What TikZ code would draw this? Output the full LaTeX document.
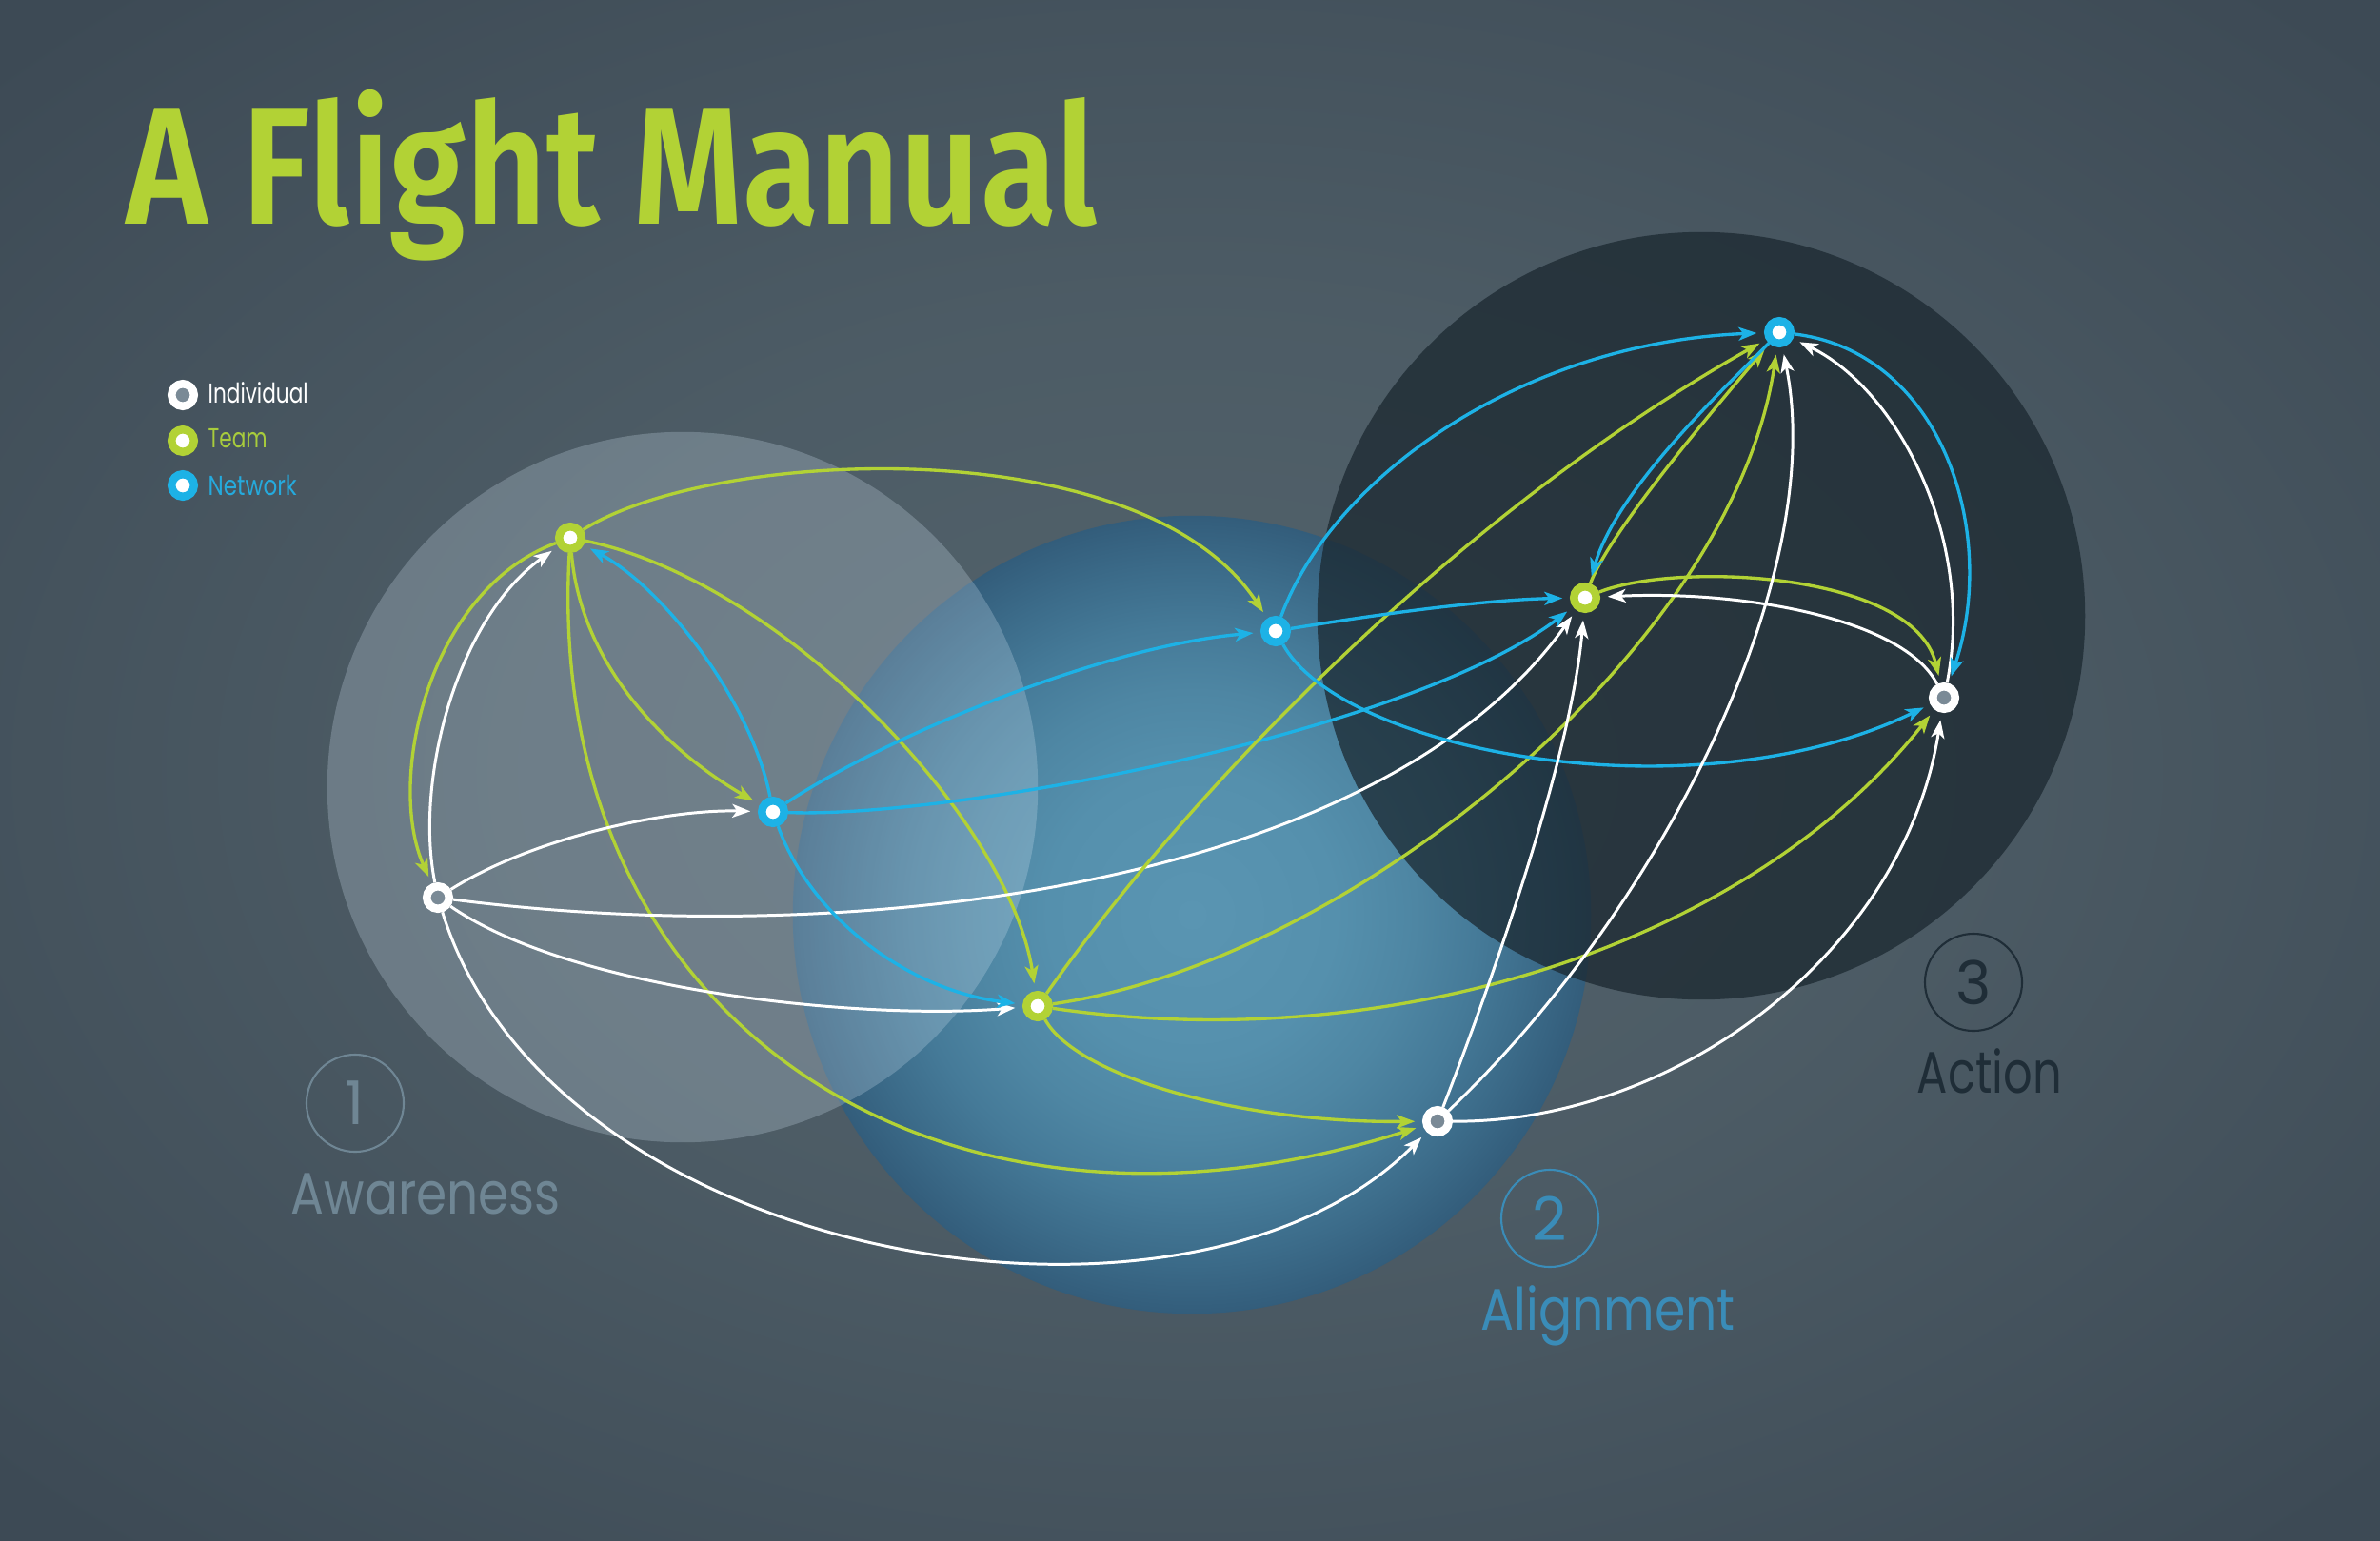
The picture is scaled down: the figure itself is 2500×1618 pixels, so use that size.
\documentclass[tikz,border=0pt]{standalone}
\usepackage{fontspec}
\setmainfont{Poppins}
\newfontfamily\titlefont{Fira Sans SemiBold}
\usetikzlibrary{arrows.meta}
\definecolor{tgreen}{HTML}{B2D235}
\definecolor{nblue}{HTML}{1DB2E6}
\definecolor{indgray}{HTML}{7A8A96}
\definecolor{bgin}{HTML}{53636C}
\definecolor{bgout}{HTML}{3D4A55}
\definecolor{c1fill}{HTML}{D2E4F2}
\definecolor{c2a}{HTML}{5A95B2}
\definecolor{c2b}{HTML}{5590AD}
\definecolor{c2c}{HTML}{4E86A3}
\definecolor{c2e}{HTML}{457A98}
\definecolor{c2f}{HTML}{3C6C8A}
\definecolor{c2d}{HTML}{335D7B}
\definecolor{c3fill}{HTML}{1B2830}
\definecolor{lab1col}{HTML}{6F8694}
\definecolor{lab2col}{HTML}{3A8CB8}
\definecolor{lab3col}{HTML}{1F2D37}
\definecolor{legT}{HTML}{A8CC3C}
\definecolor{legN}{HTML}{25AADD}
% the path bounding box maps to the central 50bp square of a shading
\pgfdeclareradialshading{bgshade}{\pgfpoint{0bp}{0bp}}{color(0bp)=(bgin); color(15bp)=(bgin!70!bgout); color(34bp)=(bgout); color(50bp)=(bgout)}
\pgfdeclareradialshading{spheretwo}{\pgfpoint{0bp}{0bp}}{color(0bp)=(c2a); color(9bp)=(c2b); color(14bp)=(c2c); color(18bp)=(c2e); color(21.5bp)=(c2f); color(25bp)=(c2d); color(50bp)=(c2d)}
\pgfdeclarelayer{back}
\pgfdeclarelayer{edges}
\pgfsetlayers{back,edges,main}
\tikzset{
  nodebase/.style={circle, minimum size=0.235cm, inner sep=0pt, line width=0.085cm},
  team/.style={nodebase, draw=tgreen, fill=white},
  netw/.style={nodebase, draw=nblue, fill=white},
  indiv/.style={nodebase, draw=white, fill=indgray},
  conn/.style={line width=0.95pt, -{Stealth[length=5.4pt,width=4pt,inset=1.4pt]}, shorten >=2.2pt},
  ge/.style={conn, draw=tgreen},
  be/.style={conn, draw=nblue},
  we/.style={conn, draw=white, line width=0.85pt},
  txt/.style={anchor=base west, inner sep=0pt},
  stagering/.style={circle, minimum size=1.02cm, inner sep=0pt, line width=0.6pt}
}
\begin{document}
\begin{tikzpicture}[x=0.01cm, y=-0.01cm]
\useasboundingbox (0,0) rectangle (2500,1618);
\begin{pgfonlayer}{back}
\shade[shading=bgshade] (0,0) rectangle (2500,1618);
\shade[shading=spheretwo] (1252,961) circle[radius=4.19cm];
\fill[c3fill, opacity=0.74] (1787,647) circle[radius=4.03cm];
\fill[c1fill, opacity=0.25] (717,827) circle[radius=3.73cm];
\end{pgfonlayer}
% title
\node[txt, text=tgreen] (title) at (132,235) {\resizebox{10.19cm}{\height}{\titlefont\fontsize{50}{60}\selectfont A Flight Manual}};
% legend
\node[indiv] (lgI) at (192,415) {};
\node[team] (lgT) at (192,463) {};
\node[netw] (lgN) at (192,510) {};
\node[txt, text=white] (lgIt) at (218,423) {\resizebox{1.05cm}{\height}{\fontsize{8.2}{10}\selectfont Individual}};
\node[txt, text=legT] (lgTt) at (218,470) {\resizebox{0.62cm}{\height}{\fontsize{8.2}{10}\selectfont Team}};
\node[txt, text=legN] (lgNt) at (218,520) {\resizebox{0.93cm}{\height}{\fontsize{8.2}{10}\selectfont Network}};
% stage labels
\node[stagering, draw=lab1col, text=lab1col] (s1) at (373,1159) {\fontsize{18}{20}\selectfont 1};
\node[txt, text=lab1col] (l1) at (305,1275) {\resizebox{2.83cm}{\height}{\fontsize{17.5}{20}\selectfont Awareness}};
\node[stagering, draw=lab2col, text=lab2col] (s2) at (1628,1280) {\fontsize{18}{20}\selectfont 2};
\node[txt, text=lab2col] (l2) at (1555,1397) {\resizebox{2.67cm}{\height}{\fontsize{17.5}{20}\selectfont Alignment}};
\node[stagering, draw=lab3col, text=lab3col] (s3) at (2073,1032) {\fontsize{18}{20}\selectfont 3};
\node[txt, text=lab3col] (l3) at (2013,1148) {\resizebox{1.52cm}{\height}{\fontsize{17.5}{20}\selectfont Action}};
% graph nodes
\node[team] (T1) at (599,565) {};
\node[netw] (N1) at (812,853) {};
\node[indiv] (I1) at (460,943) {};
\node[team] (T2) at (1090,1057) {};
\node[netw] (N2) at (1340,663) {};
\node[team] (T3) at (1665,628) {};
\node[netw] (N3) at (1869,349) {};
\node[indiv] (I2) at (2042,733) {};
\node[indiv] (I3) at (1510,1178) {};
% connectors
\begin{pgfonlayer}{edges}
\draw[ge] (T1) .. controls (450,620) and (405,820) .. (I1);
\draw[we] (I1) .. controls (435,820) and (480,650) .. (T1);
\draw[ge] (T1) .. controls (750,470) and (1200,450) .. (N2);
\draw[ge] (T1) .. controls (610,700) and (702,790) .. (N1);
\draw[be] (N1) .. controls (790,740) and (700,620) .. (T1);
\draw[ge] (T1) .. controls (820,610) and (1060,860) .. (T2);
\draw[ge] (T1) .. controls (570,1070) and (980,1345) .. (I3);
\draw[we] (I1) .. controls (560,880) and (700,850) .. (N1);
\draw[we] (I1) .. controls (900,1000) and (1450,930) .. (T3);
\draw[we] (I1) .. controls (600,1040) and (900,1072) .. (T2);
\draw[we] (I1) .. controls (580,1330) and (1250,1440) .. (I3);
\draw[be] (N1) .. controls (920,780) and (1150,680) .. (N2);
\draw[be] (N1) .. controls (1000,860) and (1480,770) .. (T3);
\draw[be] (N1) .. controls (850,960) and (950,1040) .. (T2);
\draw[ge] (T2) .. controls (1250,830) and (1530,540) .. (N3);
\draw[ge] (T2) .. controls (1420,1010) and (1820,680) .. (N3);
\draw[ge] (T2) .. controls (1450,1110) and (1830,1000) .. (I2);
\draw[ge] (T2) .. controls (1130,1130) and (1300,1180) .. (I3);
\draw[ge] (T3) .. controls (1690,560) and (1800,430) .. (N3);
\draw[be] (N3) .. controls (1820,400) and (1700,510) .. (T3);
\draw[be] (N2) .. controls (1400,500) and (1600,360) .. (N3);
\draw[be] (N2) .. controls (1450,645) and (1560,630) .. (T3);
\draw[be] (N2) .. controls (1410,790) and (1780,860) .. (I2);
\draw[ge] (T3) .. controls (1760,590) and (2010,600) .. (I2);
\draw[we] (I2) .. controls (2000,650) and (1830,620) .. (T3);
\draw[we] (I2) .. controls (2075,570) and (1995,410) .. (N3);
\draw[be] (N3) .. controls (2040,370) and (2100,560) .. (I2);
\draw[we] (I3) .. controls (1560,1050) and (1650,800) .. (T3);
\draw[we] (I3) .. controls (1750,950) and (1920,600) .. (N3);
\draw[we] (I3) .. controls (1760,1180) and (2000,1000) .. (I2);
\end{pgfonlayer}
\end{tikzpicture}
\end{document}
